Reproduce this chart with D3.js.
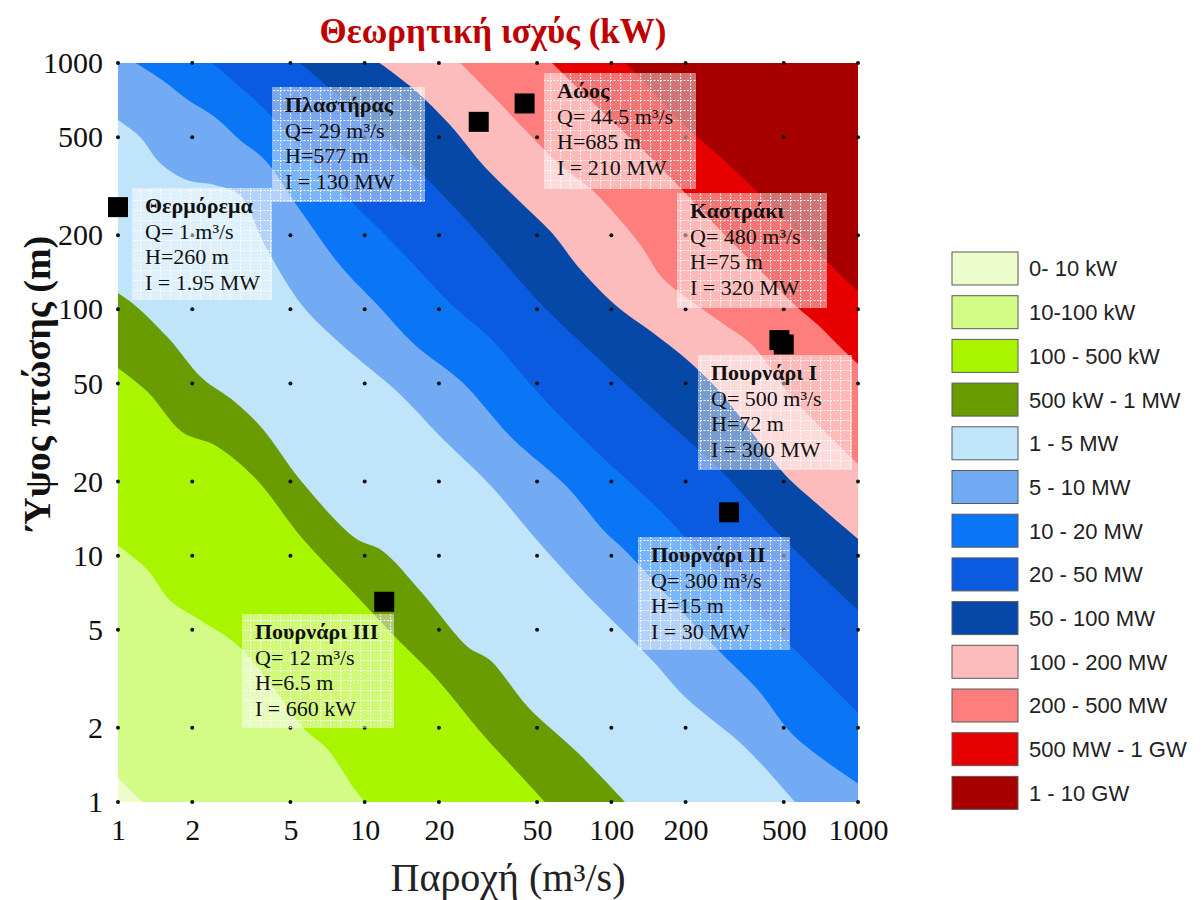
<!DOCTYPE html>
<html>
<head>
<meta charset="utf-8">
<script src="https://cdn.jsdelivr.net/npm/d3@7"></script>
<style>
  body { margin: 0; background: #fff; }
  svg { display: block; }
</style>
</head>
<body>
<svg id="chart" width="1202" height="900"></svg>
<script>
// ---- axis ticks ----
const flowTicks = [1, 2, 5, 10, 20, 50, 100, 200, 500, 1000];   // Q (m3/s)
const headTicks = [1, 2, 5, 10, 20, 50, 100, 200, 500, 1000];   // H (m)

// ---- power classes ----
const bandLabels = ["0- 10 kW", "10-100 kW", "100 - 500 kW", "500 kW - 1 MW", "1 - 5 MW",
  "5 - 10 MW", "10 - 20 MW", "20 - 50 MW", "50 - 100 MW", "100 - 200 MW",
  "200 - 500 MW", "500 MW - 1 GW", "1 - 10 GW"];
const levelsKW = [10, 100, 500, 1e3, 5e3, 1e4, 2e4, 5e4, 1e5, 2e5, 5e5, 1e6];

// ---- iso-power lines, [Q, H] pairs from the upper/left edge to the lower/right edge ----
const edge10kW  = [[1, 1.26], [1.12, 1.12], [1.26, 1]];
const edge100kW = [[1, 11.0], [1.32, 8.75], [1.62, 6.61], [2.15, 5.48], [3.04, 4.35], [4.13, 3.04],
  [5.57, 2.02], [7.10, 1.63], [8.97, 1.15], [10.0, 1]];
const edge500kW = [[1, 57.8], [1.32, 46.2], [1.82, 31.8], [2.47, 28.1], [3.59, 20.7], [5.57, 11.8],
  [8.56, 7.46], [13.3, 4.68], [19.3, 3.22], [30.7, 1.84], [45.9, 1.19], [53.8, 1]];
const edge1MW   = [[1, 116.5], [1.17, 104], [1.60, 76.5], [2.19, 52.6], [2.98, 42.1], [3.83, 33.0],
  [5.57, 19.9], [9.14, 11.8], [11.75, 10.5], [17.1, 7.05], [26.2, 4.26], [32.2, 3.77], [45.9, 2.43],
  [73.3, 1.58], [113.6, 1]];
const edge5MW   = [[1, 587], [1.23, 501], [1.48, 393], [1.90, 335], [2.47, 320], [3.12, 291],
  [3.94, 182], [5.57, 104], [8.09, 71.7], [13.6, 46.2], [20.6, 30.0], [32.2, 19.4], [49.1, 11.8],
  [78.2, 7.05], [146, 3.77], [199, 2.67], [348, 1.67], [555, 1]];
const edge10MW  = [[1.18, 1000], [1.51, 853], [1.92, 708], [2.47, 604], [3.12, 487], [3.94, 404],
  [5.47, 253], [7.94, 151], [11.3, 104], [16.0, 71.7], [24.8, 50.7], [39.6, 30.0], [64.9, 19.4],
  [94.2, 12.5], [113.6, 10.5], [271, 4.14], [393, 2.85], [555, 1.84], [1000, 1.19]];
const edge20MW  = [[2.41, 1000], [2.90, 853], [3.59, 708], [4.21, 604], [7.23, 335], [13.9, 174],
  [22.6, 104], [32.2, 76.5], [51.4, 44.9], [89.9, 25.6], [157, 15.3], [276, 8.35], [483, 4.76],
  [1000, 2.30]];
const edge50MW  = [[5.47, 1000], [9.57, 615], [16.8, 361], [29.4, 200], [52.4, 104], [89.9, 62.3],
  [157, 37.2], [276, 22.3], [483, 12.1], [1000, 6.02]];
const edge100MW = [[11.5, 1000], [16.0, 776], [22.2, 560], [30.7, 378], [41.9, 278], [57.5, 204],
  [73.3, 149], [104, 104], [146, 80.9], [199, 63.4], [271, 47.1], [365, 32.4], [506, 21.3],
  [689, 16.1], [1000, 11.7]];
const edge200MW = [[24.4, 1000], [32.8, 741], [46.8, 510], [61.9, 385], [83.5, 305], [106, 237],
  [133, 179], [160, 135], [208, 109], [289, 86.3], [372, 71.7], [530, 44.9], [735, 31.8],
  [1000, 23.6]];
const edge500MW = [[57.5, 1000], [78.2, 741], [108, 545], [137, 435], [165, 361], [199, 297],
  [276, 210], [401, 144], [555, 104], [689, 86.3], [830, 71.7], [1000, 60.0]];
const edge1GW   = [[114, 1000], [146, 777], [176, 626], [218, 510], [271, 423], [348, 335],
  [483, 242], [670, 174], [1000, 118]];

const isolines = [edge10kW, edge100kW, edge500kW, edge1MW, edge5MW, edge10MW, edge20MW,
  edge50MW, edge100MW, edge200MW, edge500MW, edge1GW];

// ---- hydropower stations ----
const stationNames = ["Θερμόρεμα", "Πλαστήρας", "Αώος", "Καστράκι", "Πουρνάρι I", "Πουρνάρι II", "Πουρνάρι III"];
const stationQ = [1, 29, 44.5, 480, 500, 300, 12];
const stationH = [260, 577, 685, 75, 72, 15, 6.5];
const stationPower = ["1.95 MW", "130 MW", "210 MW", "320 MW", "300 MW", "30 MW", "660 kW"];

// ---- styling ----
const bandColors = ["#edfccb", "#d3fc86", "#a9f500", "#699c00", "#c0e4fa", "#72aaf4", "#0a76f5",
  "#0a5be0", "#0648a8", "#fcbcbc", "#fe7e7e", "#e60000", "#a80000"];
// label box placement: [left, top, width, height] in px
const labelBoxes = [[132, 188, 140, 112], [272, 87, 153, 115], [544, 73, 152, 116],
  [677, 193, 150, 115], [698, 355, 154, 115], [638, 537, 152, 113], [242, 614, 152, 114]];

const serif = "'Liberation Serif', 'Times New Roman', serif";
const sans = "'Liberation Sans', Arial, sans-serif";

const svg = d3.select("#chart");
const x = d3.scaleLog().domain([1, 1000]).range([118, 858]);
const y = d3.scaleLog().domain([1, 1000]).range([802, 63]);

const defs = svg.append("defs");
defs.append("clipPath").attr("id", "plotClip")
  .append("rect").attr("x", x(1)).attr("y", y(1000))
  .attr("width", x(1000) - x(1)).attr("height", y(1) - y(1000));

// translucent, dotted-grid fill of the station label boxes
const pat = defs.append("pattern").attr("id", "boxTexture")
  .attr("width", 10).attr("height", 10).attr("patternUnits", "userSpaceOnUse");
pat.append("rect").attr("width", 10).attr("height", 10).attr("fill", "#fff").attr("fill-opacity", 0.46);
pat.append("path").attr("d", "M0 0.5H10M0.5 0V10")
  .attr("stroke", "#fff").attr("stroke-opacity", 0.9).attr("stroke-width", 1.2)
  .attr("stroke-dasharray", "2 1.5");

// ---- filled power classes ----
const plot = svg.append("g").attr("clip-path", "url(#plotClip)");
plot.append("rect")
  .attr("x", x(1)).attr("y", y(1000))
  .attr("width", x(1000) - x(1)).attr("height", y(1) - y(1000))
  .attr("fill", bandColors[12]);

const lineGen = d3.line().x(d => x(d[0])).y(d => y(d[1])).curve(d3.curveCatmullRom.alpha(0.5));

function lowerRegion(pts) {
  let d = lineGen(pts);
  const first = pts[0], last = pts[pts.length - 1];
  if (last[0] >= 1000) d += `L${x(1000)},${y(1)}`;
  d += `L${x(1)},${y(1)}`;
  if (first[1] >= 1000) d += `L${x(1)},${y(1000)}`;
  return d + "Z";
}

for (let k = isolines.length - 1; k >= 0; k--) {
  plot.append("path")
    .attr("d", lowerRegion(isolines[k]))
    .attr("fill", bandColors[k]);
}

// ---- grid dots at tick intersections ----
const gridPts = [];
flowTicks.forEach(q => headTicks.forEach(h => gridPts.push([q, h])));
svg.append("g").selectAll("circle").data(gridPts).join("circle")
  .attr("cx", d => x(d[0])).attr("cy", d => y(d[1])).attr("r", 2)
  .attr("fill", "#111");

// ---- axes ----
const yAxis = d3.axisLeft(y).tickValues(headTicks).tickFormat(d3.format("d")).tickSize(0).tickPadding(15);
const xAxis = d3.axisBottom(x).tickValues(flowTicks).tickFormat(d3.format("d")).tickSize(0).tickPadding(17);

const gy = svg.append("g").attr("transform", `translate(${x(1)},0)`).call(yAxis);
const gx = svg.append("g").attr("transform", `translate(0,${y(1)})`).call(xAxis);
[gx, gy].forEach(g => {
  g.select(".domain").remove();
  g.selectAll("text").attr("font-family", serif).attr("font-size", 30).attr("fill", "#111");
});

// ---- station labels and markers ----
const stations = stationNames.map((n, i) => ({
  name: n, q: stationQ[i], h: stationH[i], p: stationPower[i], box: labelBoxes[i]
}));

const lab = svg.append("g").selectAll("g").data(stations).join("g");
lab.append("rect")
  .attr("x", d => d.box[0]).attr("y", d => d.box[1])
  .attr("width", d => d.box[2]).attr("height", d => d.box[3])
  .attr("fill", "url(#boxTexture)");
lab.each(function(d) {
  const g = d3.select(this);
  const lines = [d.name, `Q= ${d.q} m³/s`, `H=${d.h} m`, `I = ${d.p}`];
  lines.forEach((t, j) => {
    g.append("text")
      .attr("x", d.box[0] + 13)
      .attr("y", d.box[1] + 25 + j * 25.5)
      .attr("font-family", serif)
      .attr("font-size", 22)
      .attr("font-weight", j === 0 ? "bold" : "normal")
      .attr("fill", "#111")
      .text(t);
  });
});

svg.append("g").selectAll("rect").data(stations).join("rect")
  .attr("x", d => x(d.q) - 10).attr("y", d => y(d.h) - 10)
  .attr("width", 20).attr("height", 20)
  .attr("fill", "#000");

// ---- titles ----
svg.append("text")
  .attr("x", 493).attr("y", 43)
  .attr("text-anchor", "middle")
  .attr("font-family", serif).attr("font-size", 35).attr("font-weight", "bold")
  .attr("fill", "#c00000")
  .text("Θεωρητική ισχύς (kW)");

svg.append("text")
  .attr("transform", "translate(50,383) rotate(-90)")
  .attr("text-anchor", "middle")
  .attr("font-family", serif).attr("font-size", 38).attr("font-weight", "bold")
  .attr("fill", "#111")
  .text("Ύψος πτώσης (m)");

svg.append("text")
  .attr("x", 508).attr("y", 891)
  .attr("text-anchor", "middle")
  .attr("font-family", serif).attr("font-size", 40)
  .attr("fill", "#222")
  .text("Παροχή (m³/s)");

// ---- legend ----
const legend = svg.append("g").selectAll("g").data(bandLabels).join("g")
  .attr("transform", (d, i) => `translate(952,${252 + i * 43.7})`);
legend.append("rect")
  .attr("width", 66).attr("height", 33)
  .attr("fill", (d, i) => bandColors[i])
  .attr("stroke", "#5a5a5a").attr("stroke-width", 1);
legend.append("text")
  .attr("x", 77).attr("y", 16.5).attr("dy", "0.36em")
  .attr("font-family", sans).attr("font-size", 22)
  .attr("fill", "#222")
  .text(d => d);
</script>
</body>
</html>
